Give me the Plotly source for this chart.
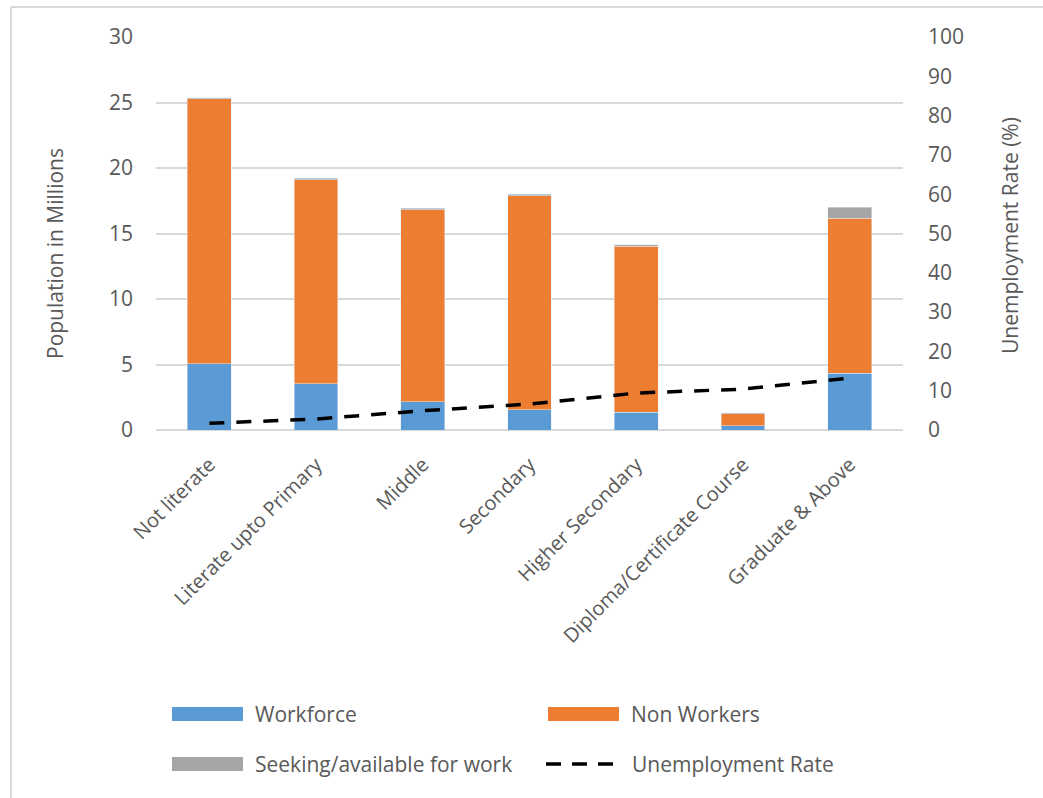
import plotly.graph_objects as go

# Education levels (x categories)
categories = [
    "Not literate",
    "Literate upto Primary",
    "Middle",
    "Secondary",
    "Higher Secondary",
    "Diploma/Certificate Course",
    "Graduate & Above",
]

# Population in millions, stacked bottom to top
workforce = [5.05, 3.52, 2.17, 1.53, 1.35, 0.33, 4.35]
non_workers = [20.23, 15.59, 14.66, 16.35, 12.68, 0.92, 11.80]
seeking = [0.10, 0.10, 0.10, 0.12, 0.12, 0.05, 0.85]

# Unemployment rate (%) on the secondary axis
unemployment_rate = [1.7, 2.8, 4.9, 6.6, 9.4, 10.4, 13.2]

left_ticks = [0, 5, 10, 15, 20, 25, 30]
right_ticks = [0, 10, 20, 30, 40, 50, 60, 70, 80, 90, 100]

BLUE = "#5b9bd5"
ORANGE = "#ed7d31"
GREY = "#a5a5a5"
TEXT = "#595959"
FONT = "Open Sans"

W, H = 1043, 798
L, R, T, B = 156, 140, 37, 368
PW, PH = W - L - R, H - T - B


def px(x):
    return (x - L) / PW


def py(y):
    return (H - B - y) / PH


fig = go.Figure()
fig.add_trace(go.Bar(x=categories, y=workforce, name="Workforce", marker_color=BLUE))
fig.add_trace(go.Bar(x=categories, y=non_workers, name="Non Workers", marker_color=ORANGE))
fig.add_trace(go.Bar(x=categories, y=seeking, name="Seeking/available for work", marker_color=GREY))
fig.add_trace(go.Scatter(
    x=categories, y=unemployment_rate, name="Unemployment Rate", yaxis="y2",
    mode="lines", line=dict(color="black", width=3.5, dash="15px,12px"),
))

fig.update_layout(
    width=W, height=H,
    margin=dict(l=L, r=R, t=T, b=B, autoexpand=False),
    paper_bgcolor="white", plot_bgcolor="white",
    barmode="stack", bargap=0.59,
    showlegend=False,
    font=dict(family=FONT, size=21, color=TEXT),
    xaxis=dict(
        tickangle=-45, showgrid=False, showline=False, ticks="",
        ticklabelstandoff=18,
        tickfont=dict(size=20, color=TEXT), automargin=False,
    ),
    yaxis=dict(
        range=[0, 30], tickvals=left_ticks, showgrid=True, gridcolor="#d9d9d9",
        gridwidth=1.5, zeroline=True, zerolinecolor="#d9d9d9", zerolinewidth=1.5,
        showline=False, ticks="", ticklabelstandoff=22, automargin=False,
        tickfont=dict(size=21, color=TEXT),
    ),
    yaxis2=dict(
        range=[0, 100], tickvals=right_ticks, overlaying="y", side="right",
        showgrid=False, zeroline=False, showline=False, ticks="",
        ticklabelstandoff=24, automargin=False,
        tickfont=dict(size=21, color=TEXT),
    ),
)

annotations = [
    dict(text="Population in Millions", x=px(55), y=py(254), textangle=-90,
         font=dict(size=21, color=TEXT)),
    dict(text="Unemployment Rate (%)", x=px(1010), y=py(236), textangle=-90,
         font=dict(size=21, color=TEXT)),
]

shapes = [
    # outer frame (top and left edges)
    dict(type="line", x0=px(11), x1=px(1043), y0=py(7), y1=py(7),
         line=dict(color="#d9d9d9", width=2)),
    dict(type="line", x0=px(11), x1=px(11), y0=py(7), y1=py(798),
         line=dict(color="#d9d9d9", width=2)),
]

# Legend laid out in two columns under the category labels
legend_rows = [
    ("Workforce", BLUE, 172, 714),
    ("Non Workers", ORANGE, 548, 714),
    ("Seeking/available for work", GREY, 172, 764),
]
for label, color, x0, yc in legend_rows:
    shapes.append(dict(type="rect", x0=px(x0), x1=px(x0 + 71), y0=py(yc + 7), y1=py(yc - 7),
                       fillcolor=color, line=dict(width=0)))
    annotations.append(dict(text=label, x=px(x0 + 81), y=py(yc), xanchor="left",
                            font=dict(size=21, color=TEXT)))

shapes.append(dict(type="line", x0=px(546), x1=px(622), y0=py(764), y1=py(764),
                   line=dict(color="black", width=3.5, dash="15px,11px")))
annotations.append(dict(text="Unemployment Rate", x=px(630), y=py(764), xanchor="left",
                        font=dict(size=21, color=TEXT)))

for s in shapes:
    s.update(xref="paper", yref="paper", layer="above")

for a in annotations:
    a.update(xref="paper", yref="paper", showarrow=False)
    a.setdefault("xanchor", "center")
    a.setdefault("yanchor", "middle")

fig.update_layout(annotations=annotations, shapes=shapes)

fig.write_html("out.html")
